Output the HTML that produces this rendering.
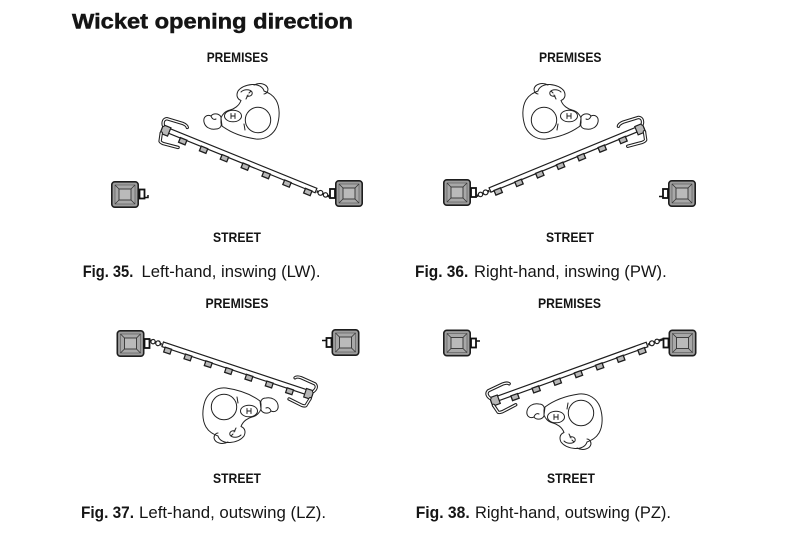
<!DOCTYPE html>
<html>
<head>
<meta charset="utf-8">
<style>
  html, body { margin: 0; padding: 0; background: #fff; }
  body { width: 800px; height: 533px; overflow: hidden; }
  svg { display: block; }
  .t { font-family: "Liberation Sans", Arial, sans-serif; fill: #151515; }
</style>
</head>
<body>
<svg width="800" height="533" viewBox="0 0 800 533" xmlns="http://www.w3.org/2000/svg">
  <rect width="800" height="533" fill="#fff"/>

  <!-- Title -->
  <text class="t" x="72" y="28.5" font-size="21.5" font-weight="bold" stroke="#151515" stroke-width="0.5" textLength="281" lengthAdjust="spacingAndGlyphs">Wicket opening direction</text>

  <!-- Labels row 1 -->
  <text class="t" x="206.7" y="62" font-size="14" font-weight="bold" textLength="61.5" lengthAdjust="spacingAndGlyphs">PREMISES</text>
  <text class="t" x="539" y="62" font-size="14" font-weight="bold" textLength="62.5" lengthAdjust="spacingAndGlyphs">PREMISES</text>
  <text class="t" x="213" y="242" font-size="14" font-weight="bold" textLength="48" lengthAdjust="spacingAndGlyphs">STREET</text>
  <text class="t" x="546" y="242" font-size="14" font-weight="bold" textLength="48" lengthAdjust="spacingAndGlyphs">STREET</text>

  <text class="t" x="82.7" y="277" font-size="17" font-weight="bold" textLength="50.6" lengthAdjust="spacingAndGlyphs">Fig. 35.</text>
  <text class="t" x="141.5" y="277" font-size="17" textLength="179" lengthAdjust="spacingAndGlyphs">Left-hand, inswing (LW).</text>
  <text class="t" x="415" y="277" font-size="17" font-weight="bold" textLength="53.3" lengthAdjust="spacingAndGlyphs">Fig. 36.</text>
  <text class="t" x="474" y="277" font-size="17" textLength="192.7" lengthAdjust="spacingAndGlyphs">Right-hand, inswing (PW).</text>

  <!-- Labels row 2 -->
  <text class="t" x="205.5" y="308" font-size="14" font-weight="bold" textLength="63" lengthAdjust="spacingAndGlyphs">PREMISES</text>
  <text class="t" x="538" y="308" font-size="14" font-weight="bold" textLength="63" lengthAdjust="spacingAndGlyphs">PREMISES</text>
  <text class="t" x="213" y="483" font-size="14" font-weight="bold" textLength="48" lengthAdjust="spacingAndGlyphs">STREET</text>
  <text class="t" x="547" y="483" font-size="14" font-weight="bold" textLength="48" lengthAdjust="spacingAndGlyphs">STREET</text>

  <text class="t" x="81" y="518" font-size="17" font-weight="bold" textLength="53" lengthAdjust="spacingAndGlyphs">Fig. 37.</text>
  <text class="t" x="139" y="518" font-size="17" textLength="187" lengthAdjust="spacingAndGlyphs">Left-hand, outswing (LZ).</text>
  <text class="t" x="415.7" y="518" font-size="17" font-weight="bold" textLength="54" lengthAdjust="spacingAndGlyphs">Fig. 38.</text>
  <text class="t" x="475" y="518" font-size="17" textLength="196" lengthAdjust="spacingAndGlyphs">Right-hand, outswing (PZ).</text>

  <!-- ===================== POSTS ===================== -->
  <!-- Fig 35 -->
  <g transform="translate(111,181)">
    <rect x="0.8" y="0.8" width="26.4" height="25.4" rx="3" fill="#9d9d9d" stroke="#1e1e1e" stroke-width="1.6"/>
    <rect x="4" y="4" width="20" height="19" fill="#a8a8a8" stroke="#555" stroke-width="0.6"/>
    <rect x="8" y="8" width="12" height="11" fill="#bababa" stroke="#333" stroke-width="0.9"/>
    <path d="M4 4L8 8M24 4L20 8M4 23L8 19M24 23L20 19" stroke="#333" stroke-width="0.8"/>
  </g>
  <rect x="139.5" y="189.5" width="5" height="9" fill="#fff" stroke="#111" stroke-width="1.8"/>
  <path d="M144.5 197.5 L148 197.5 L148 195" stroke="#111" stroke-width="1.5" fill="none"/>

  <g transform="translate(335,180)">
    <rect x="0.8" y="0.8" width="26.4" height="25.4" rx="3" fill="#9d9d9d" stroke="#1e1e1e" stroke-width="1.6"/>
    <rect x="4" y="4" width="20" height="19" fill="#a8a8a8" stroke="#555" stroke-width="0.6"/>
    <rect x="8" y="8" width="12" height="11" fill="#bababa" stroke="#333" stroke-width="0.9"/>
    <path d="M4 4L8 8M24 4L20 8M4 23L8 19M24 23L20 19" stroke="#333" stroke-width="0.8"/>
  </g>
  <rect x="330" y="189" width="5" height="9" fill="#fff" stroke="#111" stroke-width="1.8"/>

  <!-- Fig 36 -->
  <g transform="translate(443,179)">
    <rect x="0.8" y="0.8" width="26.4" height="25.4" rx="3" fill="#9d9d9d" stroke="#1e1e1e" stroke-width="1.6"/>
    <rect x="4" y="4" width="20" height="19" fill="#a8a8a8" stroke="#555" stroke-width="0.6"/>
    <rect x="8" y="8" width="12" height="11" fill="#bababa" stroke="#333" stroke-width="0.9"/>
    <path d="M4 4L8 8M24 4L20 8M4 23L8 19M24 23L20 19" stroke="#333" stroke-width="0.8"/>
  </g>
  <rect x="471" y="188" width="5" height="9" fill="#fff" stroke="#111" stroke-width="1.8"/>

  <g transform="translate(668,180)">
    <rect x="0.8" y="0.8" width="26.4" height="25.4" rx="3" fill="#9d9d9d" stroke="#1e1e1e" stroke-width="1.6"/>
    <rect x="4" y="4" width="20" height="19" fill="#a8a8a8" stroke="#555" stroke-width="0.6"/>
    <rect x="8" y="8" width="12" height="11" fill="#bababa" stroke="#333" stroke-width="0.9"/>
    <path d="M4 4L8 8M24 4L20 8M4 23L8 19M24 23L20 19" stroke="#333" stroke-width="0.8"/>
  </g>
  <rect x="663" y="189" width="5" height="9" fill="#fff" stroke="#111" stroke-width="1.8"/>
  <path d="M663 196.5 L659 196.5" stroke="#111" stroke-width="1.5" fill="none"/>

  <!-- Fig 37 -->
  <g transform="translate(116.5,330)">
    <rect x="0.8" y="0.8" width="26.4" height="25.4" rx="3" fill="#9d9d9d" stroke="#1e1e1e" stroke-width="1.6"/>
    <rect x="4" y="4" width="20" height="19" fill="#a8a8a8" stroke="#555" stroke-width="0.6"/>
    <rect x="8" y="8" width="12" height="11" fill="#bababa" stroke="#333" stroke-width="0.9"/>
    <path d="M4 4L8 8M24 4L20 8M4 23L8 19M24 23L20 19" stroke="#333" stroke-width="0.8"/>
  </g>
  <rect x="144.5" y="339" width="5" height="9" fill="#fff" stroke="#111" stroke-width="1.8"/>

  <g transform="translate(331.5,329)">
    <rect x="0.8" y="0.8" width="26.4" height="25.4" rx="3" fill="#9d9d9d" stroke="#1e1e1e" stroke-width="1.6"/>
    <rect x="4" y="4" width="20" height="19" fill="#a8a8a8" stroke="#555" stroke-width="0.6"/>
    <rect x="8" y="8" width="12" height="11" fill="#bababa" stroke="#333" stroke-width="0.9"/>
    <path d="M4 4L8 8M24 4L20 8M4 23L8 19M24 23L20 19" stroke="#333" stroke-width="0.8"/>
  </g>
  <rect x="326.5" y="338" width="5" height="9" fill="#fff" stroke="#111" stroke-width="1.8"/>
  <path d="M326.5 340.5 L322 340.5" stroke="#111" stroke-width="1.5" fill="none"/>

  <!-- Fig 38 -->
  <g transform="translate(443,329.5)">
    <rect x="0.8" y="0.8" width="26.4" height="25.4" rx="3" fill="#9d9d9d" stroke="#1e1e1e" stroke-width="1.6"/>
    <rect x="4" y="4" width="20" height="19" fill="#a8a8a8" stroke="#555" stroke-width="0.6"/>
    <rect x="8" y="8" width="12" height="11" fill="#bababa" stroke="#333" stroke-width="0.9"/>
    <path d="M4 4L8 8M24 4L20 8M4 23L8 19M24 23L20 19" stroke="#333" stroke-width="0.8"/>
  </g>
  <rect x="471" y="338.5" width="5" height="9" fill="#fff" stroke="#111" stroke-width="1.8"/>
  <path d="M476 341 L480 341" stroke="#111" stroke-width="1.5" fill="none"/>

  <g transform="translate(668.5,329.5)">
    <rect x="0.8" y="0.8" width="26.4" height="25.4" rx="3" fill="#9d9d9d" stroke="#1e1e1e" stroke-width="1.6"/>
    <rect x="4" y="4" width="20" height="19" fill="#a8a8a8" stroke="#555" stroke-width="0.6"/>
    <rect x="8" y="8" width="12" height="11" fill="#bababa" stroke="#333" stroke-width="0.9"/>
    <path d="M4 4L8 8M24 4L20 8M4 23L8 19M24 23L20 19" stroke="#333" stroke-width="0.8"/>
  </g>
  <rect x="663.5" y="338.5" width="5" height="9" fill="#fff" stroke="#111" stroke-width="1.8"/>

  <!-- ===================== GATES ===================== -->
  <!-- Fig 35 gate -->
  <g transform="translate(316,190.5) rotate(-157.9) scale(1,-1)" stroke="#1e1e1e" stroke-width="1.2" fill="#fff">
    <line x1="-15" y1="0.5" x2="-1" y2="0.5" stroke-width="2.4"/>
    <circle cx="-5" cy="0.5" r="2.4"/>
    <circle cx="-10.5" cy="0.5" r="2.2"/>
    <rect x="0" y="-2.4" width="166" height="4.8"/>
    <g fill="#b8b8b8" stroke-width="1.3">
      <rect x="3.5" y="2" width="7" height="5"/><rect x="26" y="2" width="7" height="5"/>
      <rect x="48.5" y="2" width="7" height="5"/><rect x="71" y="2" width="7" height="5"/>
      <rect x="93.5" y="2" width="7" height="5"/><rect x="116" y="2" width="7" height="5"/>
      <rect x="138.5" y="2" width="7" height="5"/>
    </g>
    <rect x="158" y="-3.5" width="8" height="9" fill="#b8b8b8"/>
    <g fill="none" stroke-linecap="round" stroke-linejoin="round">
      <path d="M166 -3 C168 -6,168 -9,165 -10.5 L149 -12 C146 -12,144 -11.5,143 -10" stroke-width="3.4"/>
      <path d="M166 -3 C168 -6,168 -9,165 -10.5 L149 -12 C146 -12,144 -11.5,143 -10" stroke="#fff" stroke-width="1.3"/>
      <path d="M165 5 L163 13 C162 14,161 14,159 14 L144 12" stroke-width="3.4"/>
      <path d="M165 5 L163 13 C162 14,161 14,159 14 L144 12" stroke="#fff" stroke-width="1.3"/>
    </g>
  </g>

  <!-- Fig 36 gate -->
  <g transform="translate(490,190) rotate(-22.4)" stroke="#1e1e1e" stroke-width="1.2" fill="#fff">
    <line x1="-15" y1="0.5" x2="-1" y2="0.5" stroke-width="2.4"/>
    <circle cx="-5" cy="0.5" r="2.4"/>
    <circle cx="-10.5" cy="0.5" r="2.2"/>
    <rect x="0" y="-2.4" width="166" height="4.8"/>
    <g fill="#b8b8b8" stroke-width="1.3">
      <rect x="3.5" y="2" width="7" height="5"/><rect x="26" y="2" width="7" height="5"/>
      <rect x="48.5" y="2" width="7" height="5"/><rect x="71" y="2" width="7" height="5"/>
      <rect x="93.5" y="2" width="7" height="5"/><rect x="116" y="2" width="7" height="5"/>
      <rect x="138.5" y="2" width="7" height="5"/>
    </g>
    <rect x="158" y="-3.5" width="8" height="9" fill="#b8b8b8"/>
    <g fill="none" stroke-linecap="round" stroke-linejoin="round">
      <path d="M166 -3 C168 -6,168 -9,165 -10.5 L149 -12 C146 -12,144 -11.5,143 -10" stroke-width="3.4"/>
      <path d="M166 -3 C168 -6,168 -9,165 -10.5 L149 -12 C146 -12,144 -11.5,143 -10" stroke="#fff" stroke-width="1.3"/>
      <path d="M165 5 L163 13 C162 14,161 14,159 14 L144 12" stroke-width="3.4"/>
      <path d="M165 5 L163 13 C162 14,161 14,159 14 L144 12" stroke="#fff" stroke-width="1.3"/>
    </g>
  </g>

  <!-- Fig 37 gate -->
  <g transform="translate(162.7,344.3) rotate(18.4) scale(0.952,1)" stroke="#1e1e1e" stroke-width="1.2" fill="#fff">
    <line x1="-15" y1="0.5" x2="-1" y2="0.5" stroke-width="2.4"/>
    <circle cx="-5" cy="0.5" r="2.4"/>
    <circle cx="-10.5" cy="0.5" r="2.2"/>
    <rect x="0" y="-2.4" width="166" height="4.8"/>
    <g fill="#b8b8b8" stroke-width="1.3">
      <rect x="3.5" y="2" width="7" height="5"/><rect x="26" y="2" width="7" height="5"/>
      <rect x="48.5" y="2" width="7" height="5"/><rect x="71" y="2" width="7" height="5"/>
      <rect x="93.5" y="2" width="7" height="5"/><rect x="116" y="2" width="7" height="5"/>
      <rect x="138.5" y="2" width="7" height="5"/>
    </g>
    <rect x="158" y="-3.5" width="8" height="9" fill="#b8b8b8"/>
    <g fill="none" stroke-linecap="round" stroke-linejoin="round">
      <path d="M166 -3 C168 -6,168 -9,165 -10.5 L149 -12 C146 -12,144 -11.5,143 -10" stroke-width="3.4"/>
      <path d="M166 -3 C168 -6,168 -9,165 -10.5 L149 -12 C146 -12,144 -11.5,143 -10" stroke="#fff" stroke-width="1.3"/>
      <path d="M165 5 L163 13 C162 14,161 14,159 14 L144 12" stroke-width="3.4"/>
      <path d="M165 5 L163 13 C162 14,161 14,159 14 L144 12" stroke="#fff" stroke-width="1.3"/>
    </g>
  </g>

  <!-- Fig 38 gate -->
  <g transform="translate(647,344.5) rotate(160.1) scale(1,-1)" stroke="#1e1e1e" stroke-width="1.2" fill="#fff">
    <line x1="-17" y1="0.5" x2="-1" y2="0.5" stroke-width="2.4"/>
    <circle cx="-5" cy="0.5" r="2.4"/>
    <circle cx="-10.5" cy="0.5" r="2.2"/>
    <rect x="0" y="-2.4" width="166" height="4.8"/>
    <g fill="#b8b8b8" stroke-width="1.3">
      <rect x="3.5" y="2" width="7" height="5"/><rect x="26" y="2" width="7" height="5"/>
      <rect x="48.5" y="2" width="7" height="5"/><rect x="71" y="2" width="7" height="5"/>
      <rect x="93.5" y="2" width="7" height="5"/><rect x="116" y="2" width="7" height="5"/>
      <rect x="138.5" y="2" width="7" height="5"/>
    </g>
    <rect x="158" y="-3.5" width="8" height="9" fill="#b8b8b8"/>
    <g fill="none" stroke-linecap="round" stroke-linejoin="round">
      <path d="M166 -3 C168 -6,168 -9,165 -10.5 L149 -12 C146 -12,144 -11.5,143 -10" stroke-width="3.4"/>
      <path d="M166 -3 C168 -6,168 -9,165 -10.5 L149 -12 C146 -12,144 -11.5,143 -10" stroke="#fff" stroke-width="1.3"/>
      <path d="M165 5 L163 13 C162 14,161 14,159 14 L144 12" stroke-width="3.4"/>
      <path d="M165 5 L163 13 C162 14,161 14,159 14 L144 12" stroke="#fff" stroke-width="1.3"/>
    </g>
  </g>

  <!-- ===================== HANDS ===================== -->
  <!-- Fig 35 hand -->
  <g transform="translate(242,112)" fill="none" stroke="#222" stroke-width="1" stroke-linecap="round" stroke-linejoin="round">
    <path fill="#fff" d="M-20 14 C-12 20,0 25,14 27 C24 28,32 22,35 14 C38 5,38 -5,34 -12 C31 -17,27 -19,22 -21 C21 -25,16 -28,10 -27.5 C4 -27,-1 -25,-4 -21 C-6 -17,-5 -13,-1 -11.5 C-3 -6,-8 -3,-12 -2 C-17 -1,-20 3,-21 6 Z"/>
    <circle cx="16" cy="8" r="12.7" fill="#fff"/>
    <path d="M-1 -20 C2 -23,8 -23,10 -20 C11 -17,8 -15,5 -16"/>
    <path d="M12 -27 C18 -30,25 -28,26 -23 C26 -20,24 -18,22 -18"/>
    <ellipse cx="-9" cy="4" rx="8.5" ry="5.8" fill="#fff"/>
    <path d="M-11 1.5 L-11 6.5 M-7 1.5 L-7 6.5 M-11 4 L-7 4"/>
    <path fill="#fff" d="M-21 5 C-23 1,-29 1,-31 4 C-35 2,-39 5,-38 10 C-37 15,-32 18,-26 17 C-22 17,-20 14,-21 11 Z"/>
    <path d="M-31 4 C-30 7,-28 8,-26 7"/>
    <path d="M4 -13 L6 -17 M7 -19 L9 -21 M2 12 L3 18"/>
  </g>

  <!-- Fig 36 hand -->
  <g transform="translate(560,112) scale(-1,1)" fill="none" stroke="#222" stroke-width="1" stroke-linecap="round" stroke-linejoin="round">
    <path fill="#fff" d="M-20 14 C-12 20,0 25,14 27 C24 28,32 22,35 14 C38 5,38 -5,34 -12 C31 -17,27 -19,22 -21 C21 -25,16 -28,10 -27.5 C4 -27,-1 -25,-4 -21 C-6 -17,-5 -13,-1 -11.5 C-3 -6,-8 -3,-12 -2 C-17 -1,-20 3,-21 6 Z"/>
    <circle cx="16" cy="8" r="12.7" fill="#fff"/>
    <path d="M-1 -20 C2 -23,8 -23,10 -20 C11 -17,8 -15,5 -16"/>
    <path d="M12 -27 C18 -30,25 -28,26 -23 C26 -20,24 -18,22 -18"/>
    <ellipse cx="-9" cy="4" rx="8.5" ry="5.8" fill="#fff"/>
    <path d="M-11 1.5 L-11 6.5 M-7 1.5 L-7 6.5 M-11 4 L-7 4"/>
    <path fill="#fff" d="M-21 5 C-23 1,-29 1,-31 4 C-35 2,-39 5,-38 10 C-37 15,-32 18,-26 17 C-22 17,-20 14,-21 11 Z"/>
    <path d="M-31 4 C-30 7,-28 8,-26 7"/>
    <path d="M4 -13 L6 -17 M7 -19 L9 -21 M2 12 L3 18"/>
  </g>

  <!-- Fig 37 hand -->
  <g transform="translate(240,415) rotate(180)" fill="none" stroke="#222" stroke-width="1" stroke-linecap="round" stroke-linejoin="round">
    <path fill="#fff" d="M-20 14 C-12 20,0 25,14 27 C24 28,32 22,35 14 C38 5,38 -5,34 -12 C31 -17,27 -19,22 -21 C21 -25,16 -28,10 -27.5 C4 -27,-1 -25,-4 -21 C-6 -17,-5 -13,-1 -11.5 C-3 -6,-8 -3,-12 -2 C-17 -1,-20 3,-21 6 Z"/>
    <circle cx="16" cy="8" r="12.7" fill="#fff"/>
    <path d="M-1 -20 C2 -23,8 -23,10 -20 C11 -17,8 -15,5 -16"/>
    <path d="M12 -27 C18 -30,25 -28,26 -23 C26 -20,24 -18,22 -18"/>
    <ellipse cx="-9" cy="4" rx="8.5" ry="5.8" fill="#fff"/>
    <path d="M-11 1.5 L-11 6.5 M-7 1.5 L-7 6.5 M-11 4 L-7 4"/>
    <path fill="#fff" d="M-21 5 C-23 1,-29 1,-31 4 C-35 2,-39 5,-38 10 C-37 15,-32 18,-26 17 C-22 17,-20 14,-21 11 Z"/>
    <path d="M-31 4 C-30 7,-28 8,-26 7"/>
    <path d="M4 -13 L6 -17 M7 -19 L9 -21 M2 12 L3 18"/>
  </g>

  <!-- Fig 38 hand -->
  <g transform="translate(565,421) scale(1,-1)" fill="none" stroke="#222" stroke-width="1" stroke-linecap="round" stroke-linejoin="round">
    <path fill="#fff" d="M-20 14 C-12 20,0 25,14 27 C24 28,32 22,35 14 C38 5,38 -5,34 -12 C31 -17,27 -19,22 -21 C21 -25,16 -28,10 -27.5 C4 -27,-1 -25,-4 -21 C-6 -17,-5 -13,-1 -11.5 C-3 -6,-8 -3,-12 -2 C-17 -1,-20 3,-21 6 Z"/>
    <circle cx="16" cy="8" r="12.7" fill="#fff"/>
    <path d="M-1 -20 C2 -23,8 -23,10 -20 C11 -17,8 -15,5 -16"/>
    <path d="M12 -27 C18 -30,25 -28,26 -23 C26 -20,24 -18,22 -18"/>
    <ellipse cx="-9" cy="4" rx="8.5" ry="5.8" fill="#fff"/>
    <path d="M-11 1.5 L-11 6.5 M-7 1.5 L-7 6.5 M-11 4 L-7 4"/>
    <path fill="#fff" d="M-21 5 C-23 1,-29 1,-31 4 C-35 2,-39 5,-38 10 C-37 15,-32 18,-26 17 C-22 17,-20 14,-21 11 Z"/>
    <path d="M-31 4 C-30 7,-28 8,-26 7"/>
    <path d="M4 -13 L6 -17 M7 -19 L9 -21 M2 12 L3 18"/>
  </g>
</svg>
</body>
</html>
